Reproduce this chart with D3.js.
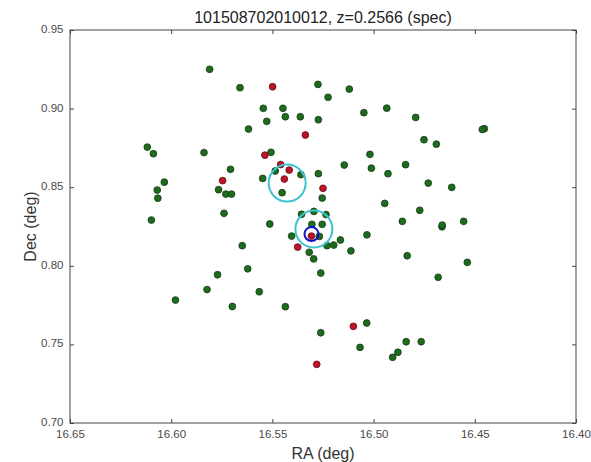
<!DOCTYPE html>
<html>
<head>
<meta charset="utf-8">
<script src="https://cdn.jsdelivr.net/npm/d3@7"></script>
<style>
  html, body { margin: 0; padding: 0; background: #fff; }
  svg { display: block; font-family: "Liberation Sans", Arial, sans-serif; }
</style>
</head>
<body>
<div id="chart"></div>
<script>
// RA / Dec of the green (non-member) and red (member) galaxies, in degrees
const greenRA = [16.5810, 16.5660, 16.5275, 16.5225, 16.5545, 16.5448, 16.5436, 16.5528, 16.5362, 16.5273,
  16.5618, 16.6118, 16.6088, 16.5838, 16.5507, 16.5486, 16.5359, 16.5548, 16.5273, 16.5707,
  16.6034, 16.6069, 16.6066, 16.5766, 16.5730, 16.5702, 16.5452, 16.5254, 16.5739, 16.6098,
  16.5356, 16.5295, 16.5235, 16.5120, 16.4935, 16.5048, 16.4792, 16.4453, 16.4463, 16.4751,
  16.4690, 16.5018, 16.5145, 16.5011, 16.4842, 16.4929, 16.4730, 16.4614, 16.4945, 16.4772,
  16.5513, 16.5649, 16.5771, 16.5622, 16.5823, 16.5565, 16.5979, 16.5698, 16.5436, 16.5261,
  16.5405, 16.5318, 16.5296, 16.5261, 16.5305, 16.5254, 16.5268, 16.5230, 16.5197, 16.5164,
  16.5112, 16.4858, 16.4662, 16.4661, 16.4555, 16.5033, 16.4834, 16.4537, 16.4681, 16.5034,
  16.5067, 16.4839, 16.4765, 16.4880, 16.4906];
const greenDec = [0.9250, 0.9133, 0.9154, 0.9072, 0.9002, 0.9002, 0.8948, 0.8919, 0.8948, 0.8929,
  0.8870, 0.8755, 0.8713, 0.8720, 0.8722, 0.8603, 0.8580, 0.8556, 0.8586, 0.8614,
  0.8532, 0.8482, 0.8430, 0.8484, 0.8456, 0.8456, 0.8465, 0.8431, 0.8334, 0.8291,
  0.8328, 0.8346, 0.8326, 0.9124, 0.9003, 0.8974, 0.8944, 0.8872, 0.8867, 0.8802,
  0.8774, 0.8709, 0.8641, 0.8621, 0.8643, 0.8586, 0.8526, 0.8499, 0.8397, 0.8353,
  0.8266, 0.8128, 0.7943, 0.7981, 0.7849, 0.7835, 0.7782, 0.7741, 0.7740, 0.7574,
  0.8189, 0.8086, 0.8044, 0.7954, 0.8264, 0.8264, 0.8187, 0.8128, 0.8132, 0.8164,
  0.8095, 0.8283, 0.8248, 0.8259, 0.8283, 0.8197, 0.8064, 0.8022, 0.7927, 0.7636,
  0.7481, 0.7517, 0.7517, 0.7450, 0.7418];
const redRA = [16.5499, 16.5337, 16.5537, 16.5459, 16.5417, 16.5441, 16.5746, 16.5250, 16.5375, 16.5307,
  16.5100, 16.5281];
const redDec = [0.9139, 0.8832, 0.8704, 0.8644, 0.8609, 0.8552, 0.8542, 0.8493, 0.8119, 0.8189,
  0.7615, 0.7373];
// highlighted positions: cyan rings and the blue ring (BCG)
const cyanRA = [16.5427, 16.5295];
const cyanDec = [0.8526, 0.8234];
const blueRA = [16.5307];
const blueDec = [0.8202];

const xTicks = [16.65, 16.60, 16.55, 16.50, 16.45, 16.40];
const yTicks = [0.70, 0.75, 0.80, 0.85, 0.90, 0.95];
const title = '101508702010012, z=0.2566 (spec)';

const W = 591, H = 462;
const M = { t: 30, r: 15, b: 39, l: 70 };

const svg = d3.select('#chart').append('svg')
  .attr('width', W)
  .attr('height', H);

const x = d3.scaleLinear().domain([16.65, 16.40]).range([M.l, W - M.r]);
const y = d3.scaleLinear().domain([0.70, 0.95]).range([H - M.b, M.t]);

const fmt = d3.format('.2f');
const tickLen = 4;

// inward ticks on all four sides, like matplotlib's classic style
svg.append('g')
  .attr('transform', `translate(0,${H - M.b})`)
  .call(d3.axisTop(x).tickValues(xTicks).tickSize(tickLen).tickFormat(''))
  .call(g => g.select('.domain').remove());
svg.append('g')
  .attr('transform', `translate(0,${M.t})`)
  .call(d3.axisBottom(x).tickValues(xTicks).tickSize(tickLen).tickFormat(''))
  .call(g => g.select('.domain').remove());
svg.append('g')
  .attr('transform', `translate(${M.l},0)`)
  .call(d3.axisRight(y).tickValues(yTicks).tickSize(tickLen).tickFormat(''))
  .call(g => g.select('.domain').remove());
svg.append('g')
  .attr('transform', `translate(${W - M.r},0)`)
  .call(d3.axisLeft(y).tickValues(yTicks).tickSize(tickLen).tickFormat(''))
  .call(g => g.select('.domain').remove());
svg.selectAll('.tick line').attr('stroke', '#444');

// tick labels
svg.append('g')
  .attr('transform', `translate(0,${H - M.b})`)
  .call(d3.axisBottom(x).tickValues(xTicks).tickSize(0).tickPadding(7.3).tickFormat(fmt))
  .call(g => g.select('.domain').remove())
  .selectAll('text')
  .style('font-size', '11.5px')
  .attr('fill', '#4a4a4a');
svg.append('g')
  .attr('transform', `translate(${M.l},0)`)
  .call(d3.axisLeft(y).tickValues(yTicks).tickSize(0).tickPadding(6.5).tickFormat(fmt))
  .call(g => g.select('.domain').remove())
  .selectAll('text')
  .attr('dy', '0.22em')
  .style('font-size', '11.5px')
  .attr('fill', '#4a4a4a');

const green = greenRA.map((ra, i) => ({ ra, dec: greenDec[i] }));
const red = redRA.map((ra, i) => ({ ra, dec: redDec[i] }));

svg.append('g').selectAll('circle')
  .data(green)
  .enter().append('circle')
  .attr('cx', d => x(d.ra))
  .attr('cy', d => y(d.dec))
  .attr('r', 3.4)
  .attr('fill', '#1d6b1d')
  .attr('stroke', '#163b16')
  .attr('stroke-width', 0.8);

svg.append('g').selectAll('circle')
  .data(red)
  .enter().append('circle')
  .attr('cx', d => x(d.ra))
  .attr('cy', d => y(d.dec))
  .attr('r', 3.4)
  .attr('fill', '#be1328')
  .attr('stroke', '#5e1010')
  .attr('stroke-width', 0.8);

svg.append('g').selectAll('circle')
  .data(cyanRA.map((ra, i) => ({ ra, dec: cyanDec[i] })))
  .enter().append('circle')
  .attr('cx', d => x(d.ra))
  .attr('cy', d => y(d.dec))
  .attr('r', 18.5)
  .attr('fill', 'none')
  .attr('stroke', '#3cc3cf')
  .attr('stroke-width', 2);

svg.append('g').selectAll('circle')
  .data(blueRA.map((ra, i) => ({ ra, dec: blueDec[i] })))
  .enter().append('circle')
  .attr('cx', d => x(d.ra))
  .attr('cy', d => y(d.dec))
  .attr('r', 7)
  .attr('fill', 'none')
  .attr('stroke', '#1010c8')
  .attr('stroke-width', 2);

// frame
svg.append('rect')
  .attr('x', M.l).attr('y', M.t)
  .attr('width', W - M.l - M.r)
  .attr('height', H - M.t - M.b)
  .attr('fill', 'none')
  .attr('stroke', '#444')
  .attr('stroke-width', 1);

svg.append('text')
  .attr('x', (M.l + W - M.r) / 2)
  .attr('y', 23)
  .attr('text-anchor', 'middle')
  .style('font-size', '16px')
  .attr('fill', '#222')
  .text(title);

svg.append('text')
  .attr('x', (M.l + W - M.r) / 2)
  .attr('y', 459)
  .attr('text-anchor', 'middle')
  .style('font-size', '16px')
  .attr('fill', '#333')
  .text('RA (deg)');

svg.append('text')
  .attr('transform', `translate(36,${(M.t + H - M.b) / 2}) rotate(-90)`)
  .attr('text-anchor', 'middle')
  .style('font-size', '16px')
  .attr('fill', '#333')
  .text('Dec (deg)');
</script>
</body>
</html>
